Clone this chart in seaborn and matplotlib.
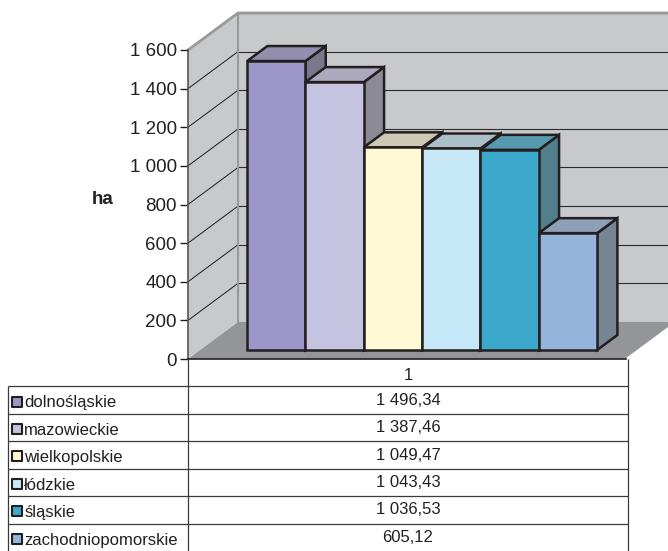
import numpy as np
import pandas as pd
import matplotlib
matplotlib.use("Agg")
import matplotlib.pyplot as plt
from matplotlib.patches import Polygon, Rectangle
import seaborn as sns

regions = ["dolnośląskie", "mazowieckie", "wielkopolskie", "łódzkie", "śląskie", "zachodniopomorskie"]
values = [1496.34, 1387.46, 1049.47, 1043.43, 1036.53, 605.12]
colors = ["#9C96C9", "#C6C3E1", "#FFF9D6", "#C6E8F8", "#3BA8CC", "#95B4DC"]
yticks = list(range(0, 1601, 200))
category = "1"

sns.set_style("white")
plt.rcParams["font.family"] = ["Liberation Sans", "DejaVu Sans"]

df = pd.DataFrame({"region": regions, "value": values})

W, H = 668, 551
fig = plt.figure(figsize=(W / 100, H / 100), dpi=100)
ax = fig.add_axes([188 / W, (H - 359) / H, 438 / W, 309 / H])

# front faces of the bars
sns.barplot(data=df, x="region", y="value", hue="region", palette=colors,
            order=regions, hue_order=regions, width=1, legend=False, saturation=1,
            edgecolor="#231F20", linewidth=1.8, ax=ax)
bars = sorted([p for p in ax.patches if isinstance(p, Rectangle)], key=lambda p: p.get_x())

xl, xr = -1.306, 6.203
ymax = 1600
ax.set_xlim(xl, xr)
ax.set_ylim(0, ymax)

# depth of the 3d box in data units
Dx, Dy = 0.857, 191.6
f0, f1 = 0.243, 0.648
ddx, ddy = (f1 - f0) * Dx, (f1 - f0) * Dy

wall = "#C8C9CB"
floor = "#939598"
edge = "#9A9A9A"

# left wall, back wall, floor
ax.add_patch(Polygon([(xl, 0), (xl, ymax), (xl + Dx, ymax + Dy), (xl + Dx, Dy)],
                     closed=True, fc=wall, ec="none", clip_on=False, zorder=0))
ax.add_patch(Polygon([(xl + Dx, Dy), (xr + Dx, Dy), (xr + Dx, ymax + Dy), (xl + Dx, ymax + Dy)],
                     closed=True, fc=wall, ec="none", clip_on=False, zorder=0))
ax.add_patch(Polygon([(xl, 0), (xr, 0), (xr + Dx, Dy), (xl + Dx, Dy)],
                     closed=True, fc=floor, ec="none", clip_on=False, zorder=0.5))
for t in yticks[1:]:
    ax.plot([xl + Dx, xr + Dx], [t + Dy, t + Dy], color="#2b2b2b", lw=0.8, clip_on=False, zorder=0.2)
    ax.plot([xl, xl + Dx], [t, t + Dy], color="#1a1a1a", lw=0.7, clip_on=False, zorder=0.2)
ax.plot([xl, xl + Dx, xr + Dx + 1], [ymax, ymax + Dy, ymax + Dy], color=edge, lw=2,
        clip_on=False, zorder=0.3)
ax.plot([xl + Dx, xl + Dx], [Dy, ymax + Dy], color=edge, lw=1.5, clip_on=False, zorder=0.3)
ax.plot([xr, xr + Dx], [0, Dy], color="#ffffff", lw=1, clip_on=False, zorder=0.6)


def shade(c, k, grey):
    # mix the face colour with a grey, like Excel's 3d lighting
    r, g, b = matplotlib.colors.to_rgb(c)
    return tuple(k * ch + (1 - k) * grey for ch in (r, g, b))


for i, (p, v, c) in enumerate(zip(bars, values, colors)):
    p.set_x(p.get_x() + f0 * Dx)
    p.set_y(p.get_y() + f0 * Dy)
    p.set_clip_on(False)
    z = 2 + i * 0.1
    p.set_zorder(z + 0.05)
    x0 = p.get_x()
    x1 = x0 + p.get_width()
    b = p.get_y()
    top = Polygon([(x0, v + b), (x1, v + b), (x1 + ddx, v + b + ddy), (x0 + ddx, v + b + ddy)],
                  closed=True, fc=shade(c, 0.6, 0.51), ec="#231F20", lw=1.8, clip_on=False, zorder=z)
    side = Polygon([(x1, b), (x1, v + b), (x1 + ddx, v + b + ddy), (x1 + ddx, b + ddy)],
                   closed=True, fc=shade(c, 0.4, 0.39), ec="#231F20", lw=1.8, clip_on=False, zorder=z)
    ax.add_patch(side)
    ax.add_patch(top)

ax.set_yticks(yticks)
ax.set_yticklabels([f"{t:,}".replace(",", " ") for t in yticks], fontsize=13.5, color="#231F20")
ax.tick_params(axis="y", direction="out", length=6, width=1, color="#231F20", left=True, pad=2)
ax.set_xticks([])
ax.set_xlabel("")
ax.set_ylabel("ha", rotation=0, fontsize=13.5, fontweight="bold", color="#231F20")
ax.yaxis.set_label_coords(-0.196, 0.489)
for s in ["top", "right"]:
    ax.spines[s].set_visible(False)
ax.spines["left"].set_color("#555555")
ax.spines["left"].set_linewidth(1.2)
ax.spines["bottom"].set_color("#231F20")
ax.spines["bottom"].set_linewidth(1.2)
ax.patch.set_visible(False)

# data table
tab = fig.add_axes([8 / W, 0, 620 / W, (H - 359) / H])
n = len(regions)
xs = 180 / 620
tab.set_xlim(0, 1)
tab.set_ylim(n + 1, 0)
tab.axis("off")
lc, lw = "#3a3a3a", 0.9
tab.vlines([0], 1, n + 1, color=lc, lw=lw, clip_on=False)
tab.vlines([xs, 1], 0, n + 1, color=lc, lw=lw, clip_on=False)
tab.hlines(np.arange(1, n + 1), 0, 1, color=lc, lw=lw, clip_on=False)
tab.text((xs + 1) / 2, 0.6, category, ha="center", va="center", fontsize=12, color="#231F20")
for i, (r, v, c) in enumerate(zip(regions, values, colors)):
    yc = i + 1.55
    tab.scatter([0.015], [yc], marker="s", s=50, color=c, edgecolors="#231F20", linewidths=1.5,
                clip_on=False, zorder=3)
    tab.text(0.026, yc + 0.05, r, ha="left", va="center", fontsize=12, color="#231F20")
    lab = f"{v:,.2f}".replace(",", " ").replace(".", ",")
    tab.text((xs + 1) / 2, yc - 0.05, lab, ha="center", va="center", fontsize=12, color="#231F20")

fig.savefig("out.png", dpi=100, facecolor="white")
